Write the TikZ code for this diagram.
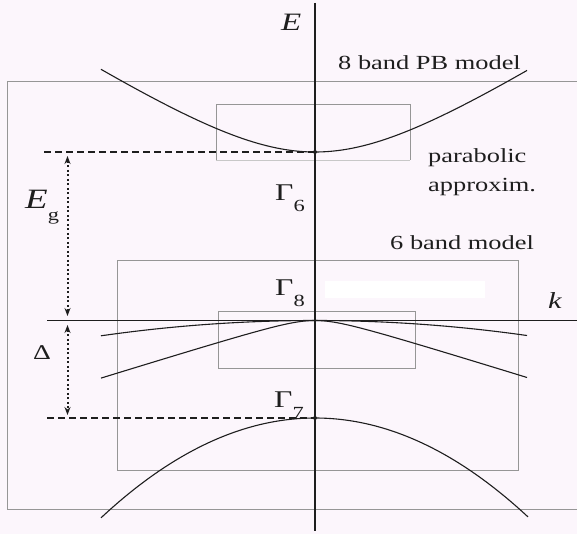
\documentclass[tikz,border=0pt]{standalone}
\usepackage{fontspec}
\usepackage{graphicx}
\setmainfont{Liberation Serif}
\usetikzlibrary{arrows.meta}
\definecolor{bg}{RGB}{252,246,252}
\definecolor{boxgray}{RGB}{150,150,150}
\definecolor{faintgray}{RGB}{200,200,200}
\definecolor{ink}{RGB}{30,30,30}
\newcommand\xwide[1]{\scalebox{1.32}[1]{#1}}
\newcommand\lblfont{\fontsize{20}{24}\selectfont}
\newcommand\gam[1]{{\fontsize{24}{24}\selectfont Γ}\raisebox{-11pt}{\fontsize{17}{17}\selectfont #1}}
\begin{document}
\begin{tikzpicture}[x=1pt,y=-1pt,
  boxline/.style={draw=boxgray,line width=0.9pt},
  band/.style={draw=ink,line width=1.1pt},
  levelline/.style={draw=ink,line width=1.1pt,dash pattern=on 7pt off 4pt},
  gaparrow/.style={draw=ink,line width=2pt,dash pattern=on 2pt off 2.5pt,{Stealth[length=8pt,width=6pt]}-{Stealth[length=8pt,width=6pt]}},
  axisline/.style={draw=ink},
  lbl/.style={inner sep=0pt,anchor=base west,text=ink},
]
\useasboundingbox (0,0) rectangle (577,534);
\fill[bg] (0,0) rectangle (577,534);
% white patch
\fill[white] (325,281) rectangle (485,298);

% boxes
\draw[boxline] (577,81) -- (7,81) -- (7,509) -- (577,509);
\draw[boxline] (216,160) -- (216,104) -- (410,104) -- (410,160);
\draw[draw=faintgray,line width=0.9pt] (216,160) -- (410,160);
\draw[boxline] (117,260) rectangle (518,470);
\draw[boxline] (218,311) rectangle (415,368);

% bands
\draw[band] plot[domain=-214:212,samples=120,smooth] ({315+\x},{152-(100*sqrt(0.757*0.757+0.4227*(\x/100)*(\x/100))-75.7)});
\draw[band] plot[domain=-214:212,samples=80,smooth] ({315+\x},{320.5+3.34*(\x/100)*(\x/100)});
\draw[band] plot[domain=-214:212,samples=120,smooth] ({315+\x},{320.5+100*sqrt(0.094*0.094+0.0961*(\x/100)*(\x/100))-9.4});
\draw[band] plot[domain=-214:213,samples=80,smooth] ({315+\x},{418+21.8*(\x/100)*(\x/100)});

% axes
\coordinate (etop) at (315,3);
\coordinate (ebot) at (315,531);
\coordinate (kleft) at (47,320.5);
\coordinate (kright) at (577,320.5);
\draw[axisline,line width=2pt] (etop) -- (ebot);
\draw[axisline,line width=1.6pt] (kleft) -- (kright);

% levels
\coordinate (g6pt) at (315,152);
\coordinate (g6left) at (44,152);
\coordinate (g7pt) at (315,418);
\coordinate (g7left) at (47,418);
\draw[levelline] (g6left) -- (g6pt);
\draw[levelline] (g7left) -- (g7pt);
\fill[ink] (g6pt) circle (2pt);
\fill[ink] (g7pt) circle (2pt);

% gap arrows
\coordinate (egtop) at (67.5,156);
\coordinate (egbot) at (67.5,316);
\coordinate (dtop) at (67.5,325);
\coordinate (dbot) at (67.5,415);
\draw[gaparrow] (egtop) -- (egbot);
\draw[gaparrow] (dtop) -- (dbot);

% labels
\node[lbl] (elabel) at (281,31) {\xwide{\fontsize{25}{25}\selectfont\itshape E}};
\node[lbl] (klabel) at (548,308) {\xwide{\fontsize{23}{23}\selectfont\itshape k}};
\node[lbl] (eglabel) at (25,209) {\xwide{{\fontsize{28}{28}\selectfont\itshape E}\raisebox{-12pt}{\fontsize{17}{17}\selectfont g}}};
\node[lbl] (dlabel) at (33,359.5) {\xwide{\fontsize{21}{21}\selectfont Δ}};
\node[lbl] (g6label) at (275,201) {\xwide{\gam{6}}};
\node[lbl] (g8label) at (275,295) {\xwide{\gam{8}}};
\node[lbl] (g7label) at (274,407) {\xwide{\gam{7}}};
\node[lbl] (pblabel) at (338,70) {\xwide{\lblfont 8 band PB model}};
\node[lbl] (para1) at (428,163) {\xwide{\lblfont parabolic}};
\node[lbl] (para2) at (428,192) {\xwide{\lblfont approxim.}};
\node[lbl] (sixlabel) at (390,249) {\xwide{\lblfont 6 band model}};
\end{tikzpicture}
\end{document}
